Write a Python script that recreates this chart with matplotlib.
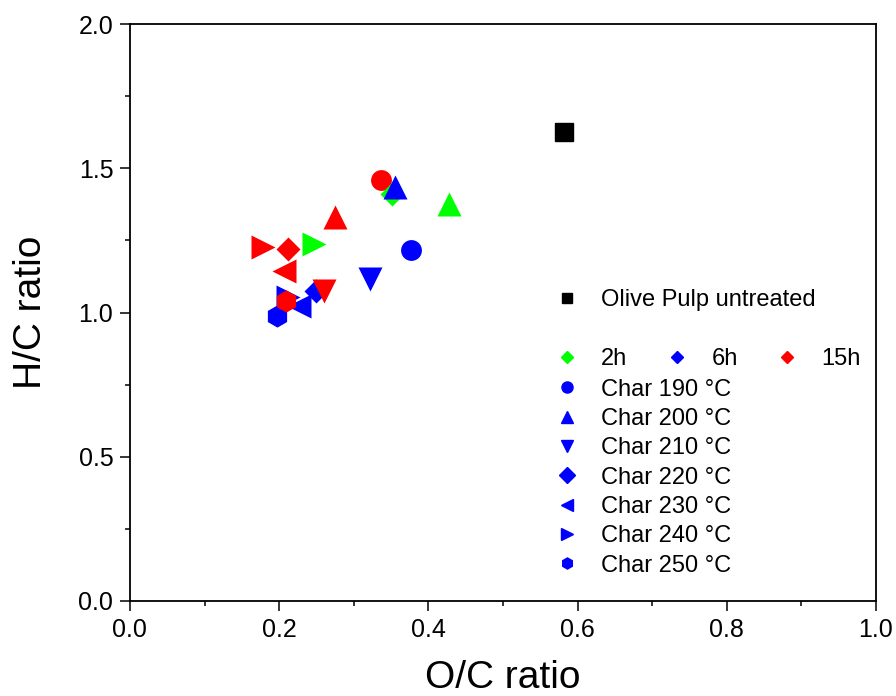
import matplotlib.pyplot as plt
from matplotlib.lines import Line2D
from matplotlib.ticker import MultipleLocator

plt.rcParams['font.family'] = ['Liberation Sans', 'DejaVu Sans']

# untreated olive pulp
raw_oc = [0.582]
raw_hc = [1.627]

# chars: (O/C, H/C, marker) per residence time
green_oc = [0.351, 0.428, 0.247]
green_hc = [1.410, 1.376, 1.238]
green_mk = ['D', '^', '>']

blue_oc = [0.377, 0.356, 0.322, 0.250, 0.227, 0.212, 0.197]
blue_hc = [1.217, 1.436, 1.117, 1.076, 1.024, 1.053, 0.987]
blue_mk = ['o', '^', 'v', 'D', '<', '>', 'h']

red_oc = [0.336, 0.275, 0.260, 0.212, 0.207, 0.179, 0.209]
red_hc = [1.459, 1.330, 1.076, 1.220, 1.145, 1.226, 1.039]
red_mk = ['o', '^', 'v', 'D', '<', '>', 'h']

temps = ['190', '200', '210', '220', '230', '240', '250']
times = ['2h', '6h', '15h']
colors = ['#00ff00', '#0000ff', '#ff0000']

sizes = {'o': 15, '^': 17, 'v': 17, 'D': 12.5, '<': 17, '>': 17, 'h': 16}

fig = plt.figure(figsize=(8.96, 6.96), dpi=100)
ax = fig.add_axes([0.145, 0.1365, 0.8326, 0.829])

ax.plot(raw_oc, raw_hc, 's', color='black', ms=12.5, ls='none')
# red circle sits under the blue/green points in the original
ax.plot(red_oc[0], red_hc[0], 'o', color=colors[2], ms=sizes['o'], mec='none', zorder=1.5)
for oc, hc, mk, c in [(green_oc, green_hc, green_mk, colors[0]),
                      (blue_oc, blue_hc, blue_mk, colors[1]),
                      (red_oc[1:], red_hc[1:], red_mk[1:], colors[2])]:
    for x, y, m in zip(oc, hc, mk):
        ax.plot(x, y, m, color=c, ms=sizes[m], ls='none', mec='none')

ax.set_xlim(0, 1.0)
ax.set_ylim(0, 2.0)
ax.xaxis.set_major_locator(MultipleLocator(0.2))
ax.xaxis.set_minor_locator(MultipleLocator(0.1))
ax.yaxis.set_major_locator(MultipleLocator(0.5))
ax.yaxis.set_minor_locator(MultipleLocator(0.25))
ax.xaxis.set_major_formatter('{x:.1f}')
ax.yaxis.set_major_formatter('{x:.1f}')
ax.tick_params(which='major', length=7, width=1.1, labelsize=18, direction='out', pad=5)
ax.tick_params(which='minor', length=3.6, width=1.1, direction='out')
for s in ax.spines.values():
    s.set_linewidth(1.3)
ax.set_xlabel('O/C ratio', fontsize=28, labelpad=13)
ax.set_ylabel('H/C ratio', fontsize=28, labelpad=21)

# legends
kw = dict(frameon=False, fontsize=17, handletextpad=0.95, borderaxespad=0,
          borderpad=0, handlelength=1.0, labelspacing=0.31)
h0 = [Line2D([], [], marker='s', color='black', ls='none', ms=7.5)]
leg0 = ax.legend(h0, ['Olive Pulp untreated'], loc='center left',
                 bbox_to_anchor=(0.570, 0.521), **kw)
ax.add_artist(leg0)

h1 = [Line2D([], [], marker='D', color=c, ls='none', ms=6.5) for c in colors]
leg1 = ax.legend(h1, times, loc='center left', ncol=3, columnspacing=1.6,
                 bbox_to_anchor=(0.570, 0.419), **kw)
ax.add_artist(leg1)

h2 = [Line2D([], [], marker=m, color=colors[1], ls='none', ms=8) for m in blue_mk]
ax.legend(h2, ['Char %s °C' % t for t in temps], loc='center left',
          bbox_to_anchor=(0.570, 0.2137), **kw)

fig.savefig('out.png', dpi=100)
